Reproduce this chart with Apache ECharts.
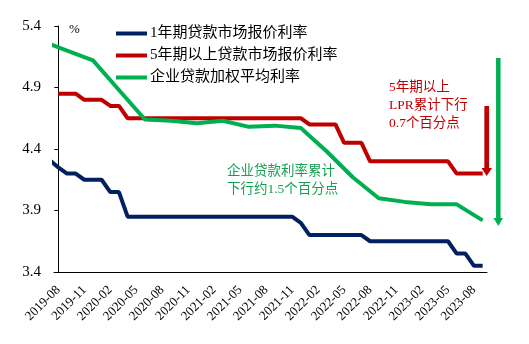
<!DOCTYPE html>
<html><head><meta charset="utf-8">
<script src="https://cdn.jsdelivr.net/npm/echarts@6/dist/echarts.min.js"></script>
<style>html,body{margin:0;padding:0;background:#fff}#c{width:529px;height:344px}</style>
</head><body><div id="c"></div>
<script>
// Monthly category labels (x axis)
const categories = [
  '2019-08','2019-09','2019-10','2019-11','2019-12',
  '2020-01','2020-02','2020-03','2020-04','2020-05','2020-06','2020-07','2020-08','2020-09','2020-10','2020-11','2020-12',
  '2021-01','2021-02','2021-03','2021-04','2021-05','2021-06','2021-07','2021-08','2021-09','2021-10','2021-11','2021-12',
  '2022-01','2022-02','2022-03','2022-04','2022-05','2022-06','2022-07','2022-08','2022-09','2022-10','2022-11','2022-12',
  '2023-01','2023-02','2023-03','2023-04','2023-05','2023-06','2023-07','2023-08','2023-09'
];
const yTicks = [3.4, 3.9, 4.4, 4.9, 5.4];

// 1-year LPR, monthly from 2019-07
const lpr1yStart = '2019-07';
const lpr1y = [
  4.31, 4.25, 4.20, 4.20, 4.15, 4.15,
  4.15, 4.05, 4.05, 3.85, 3.85, 3.85, 3.85, 3.85, 3.85, 3.85, 3.85, 3.85,
  3.85, 3.85, 3.85, 3.85, 3.85, 3.85, 3.85, 3.85, 3.85, 3.85, 3.85, 3.80,
  3.70, 3.70, 3.70, 3.70, 3.70, 3.70, 3.70, 3.65, 3.65, 3.65, 3.65, 3.65,
  3.65, 3.65, 3.65, 3.65, 3.65, 3.55, 3.55, 3.45, 3.45
];

// 5-year+ LPR, monthly from 2019-08
const lpr5yStart = '2019-08';
const lpr5y = [
  4.85, 4.85, 4.85, 4.80, 4.80,
  4.80, 4.75, 4.75, 4.65, 4.65, 4.65, 4.65, 4.65, 4.65, 4.65, 4.65, 4.65,
  4.65, 4.65, 4.65, 4.65, 4.65, 4.65, 4.65, 4.65, 4.65, 4.65, 4.65, 4.65,
  4.60, 4.60, 4.60, 4.60, 4.45, 4.45, 4.45, 4.30, 4.30, 4.30, 4.30, 4.30,
  4.30, 4.30, 4.30, 4.30, 4.30, 4.20, 4.20, 4.20, 4.20
];

// Weighted average corporate loan rate, quarterly
const corpMonths = ['2019-06','2019-09','2019-12','2020-03','2020-06','2020-09','2020-12','2021-03','2021-06',
  '2021-09','2021-12','2022-03','2022-06','2022-09','2022-12','2023-03','2023-06','2023-09'];
const corpRate = [5.28, 5.20, 5.12, 4.88, 4.64, 4.63, 4.61, 4.63, 4.58,
  4.59, 4.57, 4.38, 4.17, 4.00, 3.97, 3.95, 3.95, 3.82];

const seriesNames = ['1年期贷款市场报价利率', '5年期以上贷款市场报价利率', '企业贷款加权平均利率'];

function monthIndex(m) {
  const y = +m.slice(0, 4), mo = +m.slice(5, 7);
  const y0 = +categories[0].slice(0, 4), m0 = +categories[0].slice(5, 7);
  return (y - y0) * 12 + (mo - m0);
}
const fromStart = (start, vals) => vals.map((v, i) => [monthIndex(start) + i, v]);
const fromMonths = (months, vals) => vals.map((v, i) => [monthIndex(months[i]), v]);

const FONT = "'Liberation Serif','Noto Sans CJK SC',serif";
const BLUE = '#002060', RED = '#C00000', GREEN = '#00B050';

const chart = echarts.init(document.getElementById('c'));
chart.setOption({
  animation: false,
  textStyle: { fontFamily: FONT },
  grid: { left: 54, right: 42, top: 26, bottom: 72 },
  xAxis: [
    {
      type: 'category', data: categories, boundaryGap: true,
      axisLine: { lineStyle: { color: '#000', width: 1 } },
      axisTick: { interval: 2, length: 4, lineStyle: { color: '#000' } },
      axisLabel: { interval: 2, rotate: 45, color: '#000', fontSize: 13, fontFamily: FONT, margin: 16 },
      splitLine: { show: false }
    },
    { type: 'value', min: -0.5, max: categories.length - 0.5, show: false }
  ],
  yAxis: {
    type: 'value', min: yTicks[0], max: yTicks[yTicks.length - 1], interval: 0.5,
    axisLine: { show: true, lineStyle: { color: '#000' } },
    axisTick: { show: true, length: 4, lineStyle: { color: '#000' } },
    axisLabel: { color: '#000', fontSize: 15, fontFamily: FONT, margin: 13, formatter: v => v.toFixed(1) },
    splitLine: { show: false }
  },
  legend: {
    orient: 'vertical', left: 116, top: 26, padding: 0,
    itemWidth: 31, itemHeight: 4, itemGap: 7, icon: 'rect',
    textStyle: { fontSize: 15, color: '#000', fontFamily: FONT, padding: [0, 0, 0, -2] },
    data: seriesNames
  },
  series: [
    { name: seriesNames[0], type: 'line', xAxisIndex: 1, symbol: 'none', color: BLUE,
      lineStyle: { width: 4, color: BLUE }, data: fromStart(lpr1yStart, lpr1y) },
    { name: seriesNames[1], type: 'line', xAxisIndex: 1, symbol: 'none', color: RED,
      lineStyle: { width: 4, color: RED }, data: fromStart(lpr5yStart, lpr5y) },
    { name: seriesNames[2], type: 'line', xAxisIndex: 1, symbol: 'none', color: GREEN,
      lineStyle: { width: 4, color: GREEN }, data: fromMonths(corpMonths, corpRate) }
  ],
  graphic: [
    { type: 'text', left: 69, top: 23, style: { text: '%', fill: '#000', font: '13px ' + FONT } },
    { type: 'text', left: 389, top: 78, style: { text: '5年期以上\nLPR累计下行\n0.7个百分点', fill: RED, font: '13.5px ' + FONT, lineHeight: 18 } },
    { type: 'text', left: 227, top: 163, style: { text: '企业贷款利率累计\n下行约1.5个百分点', fill: '#15A050', font: '13.5px ' + FONT, lineHeight: 17.6 } },
    { type: 'line', shape: { x1: 486.7, y1: 106, x2: 486.7, y2: 169 }, style: { stroke: RED, lineWidth: 4.7 } },
    { type: 'polygon', shape: { points: [[481.5, 168], [492, 168], [486.7, 176]] }, style: { fill: RED } },
    { type: 'line', shape: { x1: 498.3, y1: 58, x2: 498.3, y2: 219 }, style: { stroke: GREEN, lineWidth: 4.5 } },
    { type: 'polygon', shape: { points: [[493.5, 218], [503, 218], [498.3, 226]] }, style: { fill: GREEN } }
  ]
});
</script>
</body></html>
